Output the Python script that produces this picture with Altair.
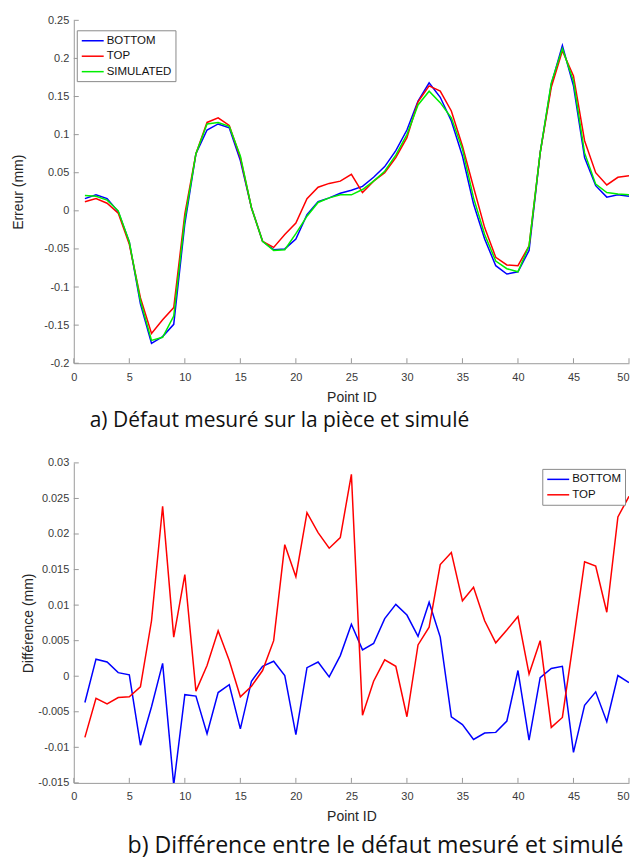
import altair as alt
import pandas as pd

# ---------------- data ----------------
point_id = list(range(1, 51))

# a) measured defect and simulated (mm)
err_bottom = [0.016, 0.021, 0.016, -0.001, -0.041, -0.122, -0.174, -0.165, -0.149, -0.017,
              0.075, 0.106, 0.114, 0.109, 0.066, 0.004, -0.040, -0.051, -0.050, -0.037,
              -0.005, 0.012, 0.017, 0.023, 0.027, 0.032, 0.044, 0.058, 0.079, 0.106,
              0.144, 0.168, 0.149, 0.118, 0.072, 0.009, -0.037, -0.072, -0.083, -0.080,
              -0.052, 0.076, 0.166, 0.217, 0.164, 0.070, 0.033, 0.018, 0.021, 0.019]
err_top = [0.012, 0.016, 0.010, -0.003, -0.044, -0.114, -0.161, -0.143, -0.127, -0.004,
           0.075, 0.116, 0.122, 0.112, 0.070, 0.004, -0.040, -0.048, -0.031, -0.016,
           0.016, 0.031, 0.036, 0.039, 0.048, 0.024, 0.039, 0.050, 0.070, 0.096,
           0.143, 0.164, 0.157, 0.131, 0.085, 0.031, -0.022, -0.061, -0.071, -0.072,
           -0.046, 0.076, 0.162, 0.210, 0.177, 0.092, 0.050, 0.034, 0.044, 0.046]
err_sim = [0.020, 0.019, 0.014, 0.000, -0.041, -0.118, -0.170, -0.166, -0.138, -0.011,
           0.075, 0.114, 0.116, 0.111, 0.072, 0.004, -0.040, -0.052, -0.051, -0.030,
           -0.007, 0.011, 0.017, 0.021, 0.021, 0.028, 0.039, 0.052, 0.073, 0.100,
           0.139, 0.157, 0.142, 0.122, 0.081, 0.017, -0.031, -0.066, -0.076, -0.080,
           -0.046, 0.076, 0.168, 0.213, 0.170, 0.076, 0.035, 0.024, 0.022, 0.021]

# b) difference between measured and simulated (mm)
diff_bottom = [-0.0037, 0.0024, 0.0020, 0.0005, 0.0002, -0.0097, -0.0043, 0.0018, -0.0153, -0.0026,
               -0.0028, -0.0081, -0.0023, -0.0012, -0.0074, -0.0007, 0.0014, 0.0021, 0.0001, -0.0082,
               0.0012, 0.0020, -0.0001, 0.0029, 0.0073, 0.0037, 0.0046, 0.0081, 0.0101, 0.0086,
               0.0056, 0.0104, 0.0055, -0.0057, -0.0068, -0.0089, -0.0080, -0.0079, -0.0063, 0.0008,
               -0.0090, -0.0002, 0.0011, 0.0014, -0.0107, -0.0041, -0.0022, -0.0064, 0.0001, -0.0009]
diff_top = [-0.0086, -0.0031, -0.0039, -0.0030, -0.0029, -0.0015, 0.0078, 0.0239, 0.0055, 0.0143,
            -0.0021, 0.0015, 0.0064, 0.0022, -0.0029, -0.0014, 0.0008, 0.0050, 0.0185, 0.0140,
            0.0230, 0.0202, 0.0180, 0.0195, 0.0284, -0.0055, -0.0007, 0.0023, 0.0014, -0.0057,
            0.0044, 0.0069, 0.0157, 0.0174, 0.0106, 0.0125, 0.0078, 0.0047, 0.0065, 0.0084,
            0.0003, 0.0050, -0.0072, -0.0058, 0.0050, 0.0161, 0.0155, 0.0090, 0.0224, 0.0253]

x_ticks = [0, 5, 10, 15, 20, 25, 30, 35, 40, 45, 50]
y_ticks_a = [-0.2, -0.15, -0.1, -0.05, 0, 0.05, 0.1, 0.15, 0.2, 0.25]
y_ticks_b = [-0.015, -0.01, -0.005, 0, 0.005, 0.01, 0.015, 0.02, 0.025, 0.03]

series_a = ["BOTTOM", "TOP", "SIMULATED"]
colors_a = ["#0000ff", "#ff0000", "#00ee00"]
series_b = ["BOTTOM", "TOP"]
colors_b = ["#0000ff", "#ff0000"]

# ---------------- styling ----------------
AX = "#9a9a9a"
LBL = "#3a3a3a"
FONT = "Liberation Sans"
CAP_FONT = "Open Sans"
# legend line symbol: starts at the symbol's left edge and runs 22px to the right
LEG_LINE = "M-1,0H3"

df_a = pd.DataFrame({
    "Point ID": point_id * 3,
    "val": err_bottom + err_top + err_sim,
    "serie": ["BOTTOM"] * 50 + ["TOP"] * 50 + ["SIMULATED"] * 50,
})
df_b = pd.DataFrame({
    "Point ID": point_id * 2,
    "val": diff_bottom + diff_top,
    "serie": ["BOTTOM"] * 50 + ["TOP"] * 50,
})


def panel(df, series, colors, yticks, ydom, ytitle, w, h, ytitle_pad, lx, ly,
          caption, cap_size, cap_dx, cap_off):
    xscale = alt.Scale(domain=[0, 50], nice=False, zero=False)
    yscale = alt.Scale(domain=ydom, nice=False, zero=False)
    xaxis = alt.Axis(values=x_ticks, title="Point ID", grid=False, ticks=False,
                     domainColor=AX, labelColor=LBL, labelFont=FONT, labelFontSize=11,
                     labelPadding=8, labelOverlap=False, labelFlush=False,
                     labelAlign={"condition": {"test": "datum.value == 50", "value": "right"},
                                 "value": "center"},
                     titleFont=FONT, titleFontSize=14,
                     titleFontWeight="normal", titleColor="#262626", titlePadding=8)
    yaxis = alt.Axis(values=yticks, title=ytitle, grid=False, ticks=False,
                     domainColor=AX, labelColor=LBL, labelFont=FONT, labelFontSize=11,
                     labelPadding=5, labelOverlap=False, labelFlush=False,
                     labelExpr="'' + datum.value",
                     titleFont=FONT, titleFontSize=14, titleFontWeight="normal",
                     titleColor="#262626", titlePadding=ytitle_pad)
    lines = alt.Chart(df).mark_line(strokeWidth=1.5, clip=True).encode(
        x=alt.X("Point ID:Q", scale=xscale, axis=xaxis, title="Point ID"),
        y=alt.Y("val:Q", scale=yscale, axis=yaxis, title=ytitle),
        color=alt.Color("serie:N", sort=series,
                        scale=alt.Scale(domain=series, range=colors),
                        legend=alt.Legend(orient="none", legendX=lx, legendY=ly, title=None,
                                          fillColor="white", strokeColor="#8a8a8a",
                                          padding=4, symbolType=LEG_LINE, symbolSize=121,
                                          symbolStrokeWidth=1.5, labelFont=FONT,
                                          labelFontSize=11.5, labelColor="#111111",
                                          labelOffset=13, rowPadding=3.5, cornerRadius=0)),
        detail="serie:N",
    )
    xt = alt.Chart(pd.DataFrame({"t": x_ticks})).mark_rule(color=AX, strokeWidth=1).encode(
        x=alt.X("t:Q", scale=xscale, axis=xaxis, title="Point ID"),
        y=alt.value(h), y2=alt.value(h - 5))
    yt = alt.Chart(pd.DataFrame({"t": yticks})).mark_rule(color=AX, strokeWidth=1).encode(
        y=alt.Y("t:Q", scale=yscale, axis=yaxis, title=ytitle),
        x=alt.value(0), x2=alt.value(5))
    return alt.layer(lines, xt, yt).properties(
        width=w, height=h,
        title=alt.TitleParams(caption, orient="bottom", anchor="start", frame="group",
                              dx=cap_dx, offset=cap_off, font=CAP_FONT, fontSize=cap_size,
                              fontWeight="normal", color="#111111"),
    )


top = panel(df_a, series_a, colors_a, y_ticks_a, [-0.2, 0.25], "Erreur (mm)",
            557, 344, 18, 3, 10, "a) Défaut mesuré sur la pièce et simulé", 21, 16, 6)
bottom = panel(df_b, series_b, colors_b, y_ticks_b, [-0.015, 0.03], "Différence (mm)",
               557, 321, 2, 470, 6, "b) Différence entre le défaut mesuré et simulé", 23.2, 54, 11)

chart = alt.vconcat(top, bottom, spacing=26).resolve_scale(
    x="independent", y="independent", color="independent"
).resolve_legend(color="independent").configure_view(stroke=None).properties(
    padding={"left": 3, "top": 5, "right": 0, "bottom": 0},
    background="white",
)

chart.save("out.html", embed_options={"renderer": "svg", "actions": False})
